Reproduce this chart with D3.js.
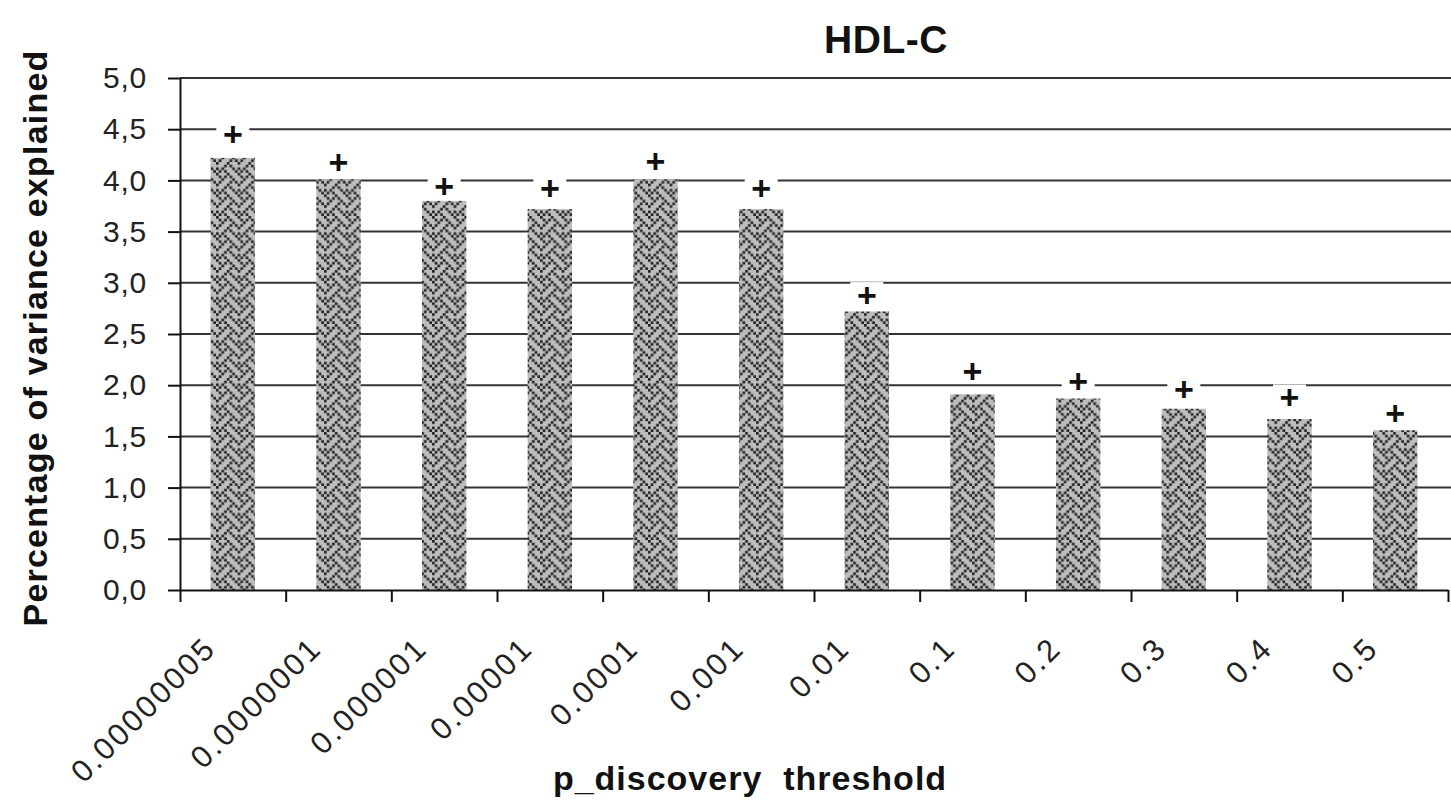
<!DOCTYPE html>
<html><head><meta charset="utf-8">
<script src="https://cdn.jsdelivr.net/npm/d3@7"></script>
<style>html,body{margin:0;padding:0;background:#fff;} svg{display:block;}</style>
</head><body>
<svg id="chart" width="1451" height="809"></svg>
<script>
// ---- data ----
const categories = ["0.00000005","0.0000001","0.000001","0.00001","0.0001","0.001","0.01","0.1","0.2","0.3","0.4","0.5"];
const varianceExplained = [4.22,4.01,3.80,3.72,4.01,3.72,2.72,1.91,1.87,1.77,1.67,1.56];
const plusMarkerValues = [4.45,4.18,3.95,3.93,4.19,3.93,2.88,2.14,2.04,1.96,1.88,1.73];
const yTickValues = [0,0.5,1,1.5,2,2.5,3,3.5,4,4.5,5];
const yTickLabels = ["0,0","0,5","1,0","1,5","2,0","2,5","3,0","3,5","4,0","4,5","5,0"];
const chartTitle = "HDL-C";
const xTitle = "p_discovery  threshold";
const yTitle = "Percentage of variance explained";
// weave fill bitmap (1 = dark pixel)
const weaveRows = ["10001000","01010100","00100010","01000101","10001000","00010100","10100010","01010001"];

const svg = d3.select("#chart");
const font = "'Liberation Sans', Arial, sans-serif";

const x = d3.scaleBand().domain(categories).range([180,1448]).paddingInner(0.58).paddingOuter(0.29);
const xb = d3.scaleLinear().domain([0,categories.length]).range([180,1448]);
const y = d3.scaleLinear().domain([0,5]).range([590,78]);

// pattern
const cell = 2.7;
const defs = svg.append("defs");
const pat = defs.append("pattern").attr("id","weave").attr("patternUnits","userSpaceOnUse")
  .attr("width",8*cell).attr("height",8*cell);
pat.append("rect").attr("width",8*cell).attr("height",8*cell).attr("fill","#bdbdbd");
weaveRows.forEach((row,r)=>{
  row.split("").forEach((b,c)=>{
    if(b==="1") pat.append("rect").attr("x",c*cell).attr("y",r*cell).attr("width",cell).attr("height",cell).attr("fill","#262626");
  });
});

// gridlines
svg.append("g").selectAll("line").data(yTickValues.filter(d=>d>0)).join("line")
  .attr("x1",180).attr("x2",1451).attr("y1",d=>y(d)).attr("y2",d=>y(d))
  .attr("stroke","#333").attr("stroke-width",2);

// y axis
const yAxis = svg.append("g").attr("transform","translate(180,0)")
  .call(d3.axisLeft(y).tickValues(yTickValues).tickFormat((d,i)=>yTickLabels[i]).tickSize(12).tickSizeOuter(0).tickPadding(21));
yAxis.selectAll("path,line").attr("stroke","#111").attr("stroke-width",2);
yAxis.selectAll("text").attr("font-family",font).attr("font-size",30).attr("letter-spacing",0.8).attr("fill","#222");

// bars
svg.append("g").selectAll("rect").data(varianceExplained).join("rect")
  .attr("x",(d,i)=>x(categories[i])).attr("width",x.bandwidth())
  .attr("y",d=>y(d)).attr("height",d=>y(0)-y(d))
  .attr("fill","url(#weave)");

// x axis
const xAxis = svg.append("g").attr("transform","translate(0,590)")
  .call(d3.axisBottom(xb).tickValues(d3.range(0,categories.length+1)).tickFormat("").tickSize(12).tickSizeOuter(0));
xAxis.selectAll("path,line").attr("stroke","#111").attr("stroke-width",2);

// x tick labels
svg.append("g").selectAll("text").data(categories).join("text")
  .attr("transform",d=>`translate(${x(d)+x.bandwidth()/2-15},650) rotate(-45)`)
  .attr("text-anchor","end").attr("font-family",font).attr("font-size",31)
  .attr("letter-spacing",2.6).attr("fill","#222").text(d=>d);

// plus markers
const pm = svg.append("g").selectAll("g").data(plusMarkerValues).join("g")
  .attr("transform",(d,i)=>`translate(${x(categories[i])+x.bandwidth()/2},${y(d)})`);
pm.append("rect").attr("x",-16.5).attr("y",-13).attr("width",33).attr("height",26).attr("fill","#fff");
pm.append("text").attr("text-anchor","middle").attr("y",12).attr("font-family",font)
  .attr("font-weight","bold").attr("font-size",34).attr("fill","#111").text("+");

// titles
svg.append("text").attr("x",886).attr("y",53).attr("text-anchor","middle").attr("font-family",font)
  .attr("font-weight","bold").attr("font-size",39).attr("letter-spacing",0.5).attr("fill","#111").text(chartTitle);
svg.append("text").attr("x",750).attr("y",790).attr("text-anchor","middle").attr("font-family",font)
  .attr("font-weight","bold").attr("font-size",34).attr("letter-spacing",1).attr("fill","#111")
  .attr("xml:space","preserve").style("white-space","pre").text(xTitle);
svg.append("text").attr("transform","translate(47,338) rotate(-90)").attr("text-anchor","middle").attr("font-family",font)
  .attr("font-weight","bold").attr("font-size",34).attr("letter-spacing",1.2).attr("fill","#111").text(yTitle);
</script>
</body></html>
